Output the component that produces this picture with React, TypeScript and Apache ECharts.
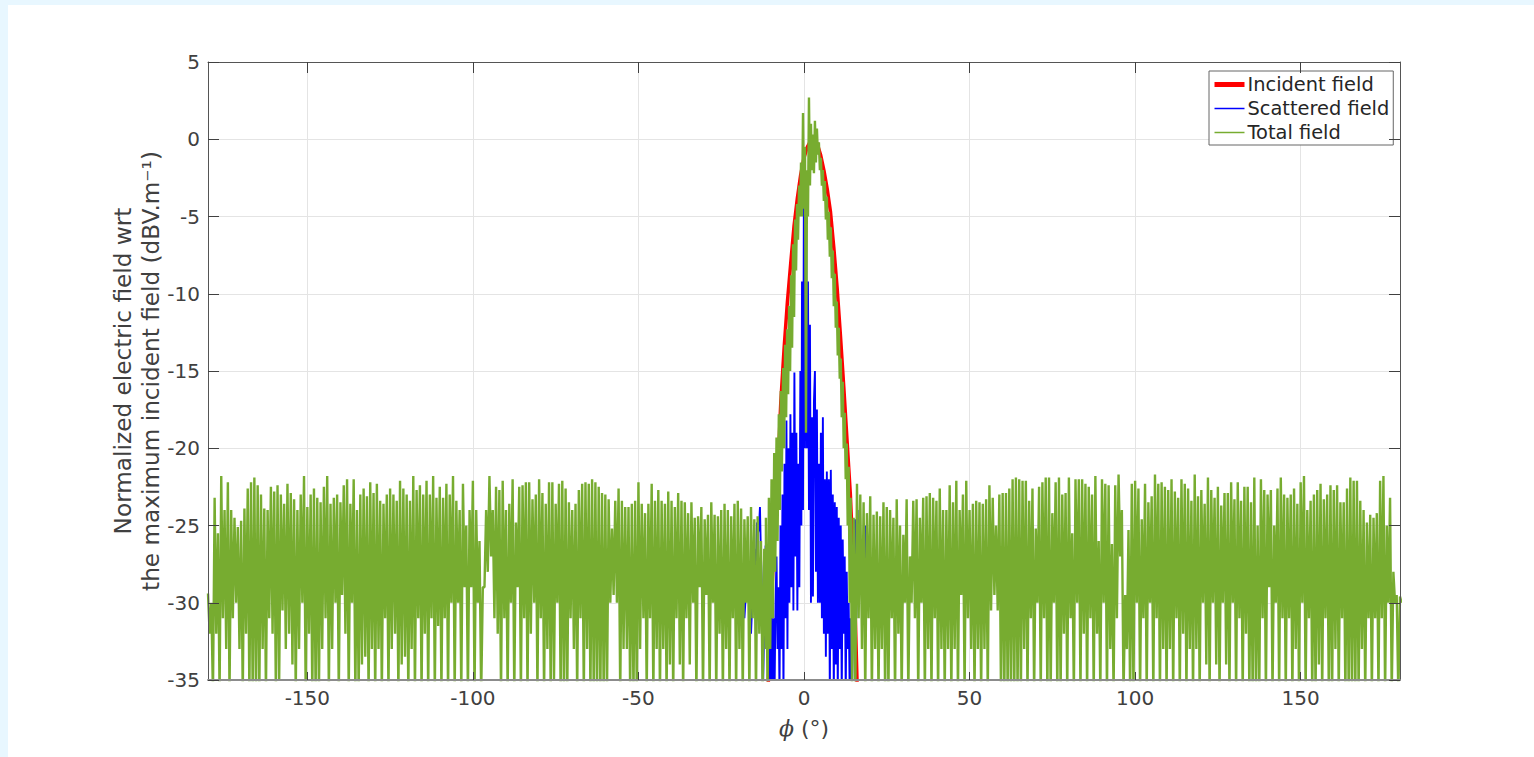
import React, { useEffect, useRef } from "react";
import * as echarts from "echarts";

const xTicks = [-150, -100, -50, 0, 50, 100, 150];

const incidentPhi = [-11, -10.5, -10, -9, -8, -7, -6, -5, -4, -3, -2, -1, 0, 1, 2, 3, 4, 5, 6, 7, 8, 9, 10, 11, 12, 13, 14, 15, 15.5, 16, 16.5];
const incidentVal = [-36.5, -33.5, -30.5, -26, -22, -17, -13.5, -10.5, -8, -5.6, -3.8, -2.3, -1.2, -0.5, -0.1, 0, -0.3, -1, -2, -3.2, -4.7, -7, -9.6, -12.7, -16, -19.5, -23, -28, -31, -35, -38];

const scatteredPhi = [-19, -18, -17, -16, -15, -14.6, -14.2, -13.9, -13.6, -13.3, -13, -12.8, -12.4, -12, -11.6, -11.3, -11, -10.6, -10.2, -9.8, -9.5, -9.2, -8.9, -8.6, -8.3, -8, -7.7, -7.4, -7.1, -6.8, -6.5, -6.2, -5.9, -5.6, -5.3, -5, -4.7, -4.4, -4.1, -3.8, -3.5, -3.2, -2.9, -2.6, -2.3, -2, -1.7, -1.4, -1.1, -0.8, -0.6, -0.3, 0, 0.3, 0.6, 0.9, 1.2, 1.5, 1.8, 2.1, 2.4, 2.7, 3, 3.3, 3.6, 3.9, 4.2, 4.5, 4.8, 5.1, 5.4, 5.7, 6, 6.3, 6.6, 6.9, 7.2, 7.5, 7.8, 8.1, 8.4, 8.7, 9, 9.3, 9.6, 9.9, 10.2, 10.5, 10.8, 11.1, 11.4, 11.7, 12, 12.3, 12.6, 12.9, 13.2, 13.5, 13.8, 14.1, 14.5, 15, 15.4, 15.8, 16.2, 16.6, 17, 17.4, 17.8, 18.2, 18.6, 19, 20];
const scatteredVal = [-28, -31, -27.5, -32, -26.5, -29, -24.8, -25.5, -25.2, -23.8, -27, -28.5, -36, -31, -26.3, -29, -33, -29, -36, -31, -36, -31, -36, -30, -27, -33, -29, -36, -25, -33, -23, -36, -21, -31, -18.2, -33, -20, -30, -17.8, -29, -19, -30.5, -15.1, -27, -19, -30.5, -21, -29, -15, -25, -9.2, -24, -0.6, -20, -3, -20, -9.2, -24, -12, -30, -18, -29.6, -17, -15, -28, -17.5, -30, -21, -30, -19, -31, -18, -32, -22, -33.5, -21.5, -32, -22, -36, -21.4, -33, -23, -36, -23.5, -34, -23.8, -36, -24.5, -33, -25, -36, -25.9, -32, -27, -36, -28, -33, -30, -36, -31, -36, -26, -24.6, -31, -24, -29, -26, -29, -27, -30, -25, -29, -27];

// Total field, -180 to -12 deg, one upper and one lower excursion per degree
const totalUpperLeft = [
  -29.4, -30, -23.2, -25.5, -21.8, -24, -22.2, -24, -24.5, -25.1,
  -24.7, -23.9, -22.6, -22.2, -21.9, -22.4, -23, -23.9, -24, -22.5,
  -22.8, -22.4, -23, -23.6, -22.3, -22.9, -23.3, -24, -23, -21.8,
  -23.8, -23, -22.6, -23.2, -23.5, -22.5, -21.8, -23.6, -23.2, -23,
  -23.5, -22.4, -22, -23.6, -22, -24, -23, -22.6, -23.1, -22.2,
  -22.9, -22.3, -23.4, -23.6, -23, -22.6, -23, -23.4, -22.1, -22.6,
  -23, -23.4, -21.8, -22.7, -22.4, -23, -22.1, -23, -21.8, -23.2,
  -22.5, -23.2, -22.3, -23, -21.8, -23.4, -24, -22.3, -25, -24,
  -22.1, -24, -26, -29, -24, -21.8, -24, -22.5, -22.7, -22.1,
  -24, -23.6, -22, -24.8, -22.5, -22.4, -22.2, -22.2, -23.3, -23,
  -22, -22.9, -23.6, -22.2, -22.2, -23.6, -22.3, -22.1, -22.6, -23.5,
  -24, -23.6, -22.7, -22.3, -22.2, -22.3, -22, -22.2, -22.5, -22.9,
  -23, -23.3, -25.2, -23.4, -22.6, -23.4, -23.8, -23.8, -23.6, -23.4,
  -22.2, -23.6, -24.2, -23.6, -22.3, -23.4, -22.7, -23.4, -23.6, -22.8,
  -23.4, -23.8, -22.9, -23.4, -23.5, -24.2, -23.5, -24.5, -24.4, -23.8,
  -24.6, -24.3, -23.5, -24.3, -24.4, -24, -23.6, -24, -24.4, -23.6,
  -23.4, -23.9, -24.6, -24.4, -23.8, -24.6, -24.4, -26, -26.5,
];
const totalLowerLeft = [
  -32, -36, -32, -36, -31, -33, -36, -31, -30, -33,
  -36, -32, -36, -36, -36, -36, -33, -36, -31, -32,
  -36, -35, -30.5, -33, -32, -34, -36, -33, -30, -36,
  -32, -36, -36, -36, -33, -31, -36, -33, -30, -36,
  -29.5, -32, -36, -30, -36, -36, -34, -33.5, -36, -33,
  -36, -33, -36, -31, -36, -33, -32, -36, -34, -33.5,
  -36, -33, -36, -31, -36, -32, -36, -31, -36, -31.5,
  -36, -31, -36, -30, -36, -30, -36, -29, -36, -29,
  -36, -30, -36, -29, -28, -27, -31, -32, -36, -31,
  -36, -30, -36, -29, -36, -31, -36, -32, -30, -36,
  -31, -36, -33, -36, -35, -30, -36, -36, -36, -31,
  -33, -36, -31, -36, -33, -36, -36, -36, -36, -36,
  -36, -30, -29.5, -30, -36, -33, -33, -36, -36, -36,
  -33, -31, -36, -31, -36, -33, -36, -33, -36, -34,
  -36, -31, -34, -36, -31, -34, -30, -36, -29, -36,
  -29.5, -36, -30, -36, -32, -36, -33, -36, -31, -36,
  -33, -36, -30, -36, -31, -36, -32, -36, -33,
];

// Total field around the main lobe
const totalCenterPhi = [-11.5, -11, -10.6, -10.2, -9.8, -9.4, -9, -8.7, -8.3, -8, -7.6, -7.3, -7, -6.7, -6.3, -6, -5.7, -5.4, -5.1, -4.8, -4.5, -4.2, -3.9, -3.6, -3.3, -3, -2.7, -2.4, -2.1, -1.8, -1.5, -1.2, -0.9, -0.6, -0.3, 0, 0.3, 0.6, 0.9, 1.2, 1.5, 1.8, 2.1, 2.4, 2.7, 3, 3.3, 3.6, 3.9, 4.2, 4.5, 4.8, 5.1, 5.4, 5.7, 6, 6.3, 6.6, 6.9, 7.2, 7.5, 7.8, 8.1, 8.4, 8.7, 9, 9.3, 9.6, 9.9, 10.2, 10.5, 10.8, 11.1, 11.4, 11.7, 12, 12.3, 12.6, 12.9, 13.2, 13.5, 13.8, 14.1, 14.5];
const totalCenterVal = [-24.5, -36, -23.2, -33, -22, -31, -20.3, -28, -19.3, -26, -17.8, -24, -16.3, -21.5, -14.8, -20, -13.3, -18, -12.3, -16.5, -10.8, -15, -8.8, -13.5, -6.8, -11.5, -5.2, -8.5, -4.2, -6.5, -3, -5, -1.5, -5, 1.7, -4.5, -0.5, -19, -2, -5, 2.7, -3, 1, -2, 0.3, -2.2, 1.2, -1.5, 0.7, -1, -0.2, -2, -1.2, -3, -2, -4, -2.7, -5.2, -3.7, -6.5, -4.7, -7.6, -5.7, -9, -7.2, -10.8, -8.7, -12.2, -10.5, -14, -12.2, -15.5, -14.2, -18, -15.7, -20, -17.7, -22, -19.7, -25, -21.2, -30, -23.2, -36];

// Total field, 15 to 180 deg
const totalUpperRight = [
  -24.5, -22.3, -23, -23.5, -24.2, -23.1, -24.3, -24.1, -24.4, -23.5,
  -23.8, -24, -24.5, -23.3, -25, -25.6, -23.3, -27, -23.4, -23.3,
  -24.5, -23.2, -23.1, -22.9, -23.2, -23.4, -22.6, -24, -24, -22.4,
  -23.5, -22.1, -24, -23, -22.1, -24, -23.6, -23.4, -23.5, -23.6,
  -23.3, -22.4, -23.2, -25, -23, -22.9, -22.9, -22.6, -22, -21.9,
  -22, -22.1, -22.1, -23.4, -22.6, -25.2, -22.5, -22.2, -21.9, -21.9,
  -24.2, -22.2, -21.9, -23, -22.9, -21.9, -25.5, -22, -22, -22,
  -22.3, -22.5, -23, -21.8, -26, -22, -22.3, -22.4, -26.2, -22.4,
  -21.7, -24, -29.5, -25.3, -22.3, -22.1, -22.6, -24.6, -22.3, -23.5,
  -23.1, -21.7, -22.3, -22.2, -22.5, -22.7, -22, -22.8, -23.2, -22,
  -22.3, -22.6, -23.4, -21.7, -23.1, -22.7, -23.6, -21.9, -22.7, -23.2,
  -22.5, -23.7, -22.9, -22.9, -22.2, -23.3, -22.2, -23.4, -22.5, -22.5,
  -23.5, -21.9, -25, -22, -22.7, -23, -22.7, -25, -22.6, -21.9,
  -23, -23.2, -23, -22.6, -23.6, -22.2, -21.8, -24, -23.4, -23,
  -22.7, -22.3, -23.3, -23, -22.4, -22.7, -22.4, -23.5, -23.5, -22.6,
  -21.9, -22.1, -22.1, -23.4, -24, -24.8, -24.3, -24.5, -24.2, -22.1,
  -21.8, -25, -23.2, -28, -29.5, -29.6,
];
const totalLowerRight = [
  -36, -31, -33, -36, -31, -36, -33, -36, -33, -36,
  -36, -31, -36, -32, -36, -30, -36, -30, -31, -36,
  -30, -36, -33, -36, -31, -36, -33, -36, -33, -36,
  -33, -36, -29.5, -36, -31, -33, -36, -33, -36, -33,
  -36, -30.5, -29.5, -30.5, -36, -36, -36, -36, -36, -36,
  -36, -33, -36, -31, -36, -30, -36, -31, -36, -36,
  -30, -36, -36, -32, -36, -31, -36, -30, -36, -32,
  -36, -31, -36, -32, -36, -30, -36, -33, -36, -31,
  -27, -36, -33, -36, -36, -30, -36, -31, -36, -30,
  -36, -31, -36, -33, -36, -33, -36, -31, -36, -32,
  -36, -33, -36, -33, -36, -30, -34, -36, -30, -34,
  -36, -30, -34, -36, -30, -36, -31, -36, -32, -36,
  -36, -36, -36, -31, -36, -29, -36, -30, -36, -31,
  -36, -31, -36, -33, -36, -30, -36, -31, -36, -36,
  -34, -36, -31, -36, -36, -33, -36, -31, -36, -36,
  -36, -36, -36, -33, -36, -31, -36, -31, -36, -31,
  -36, -30, -36, -30, -36, -30,
];

const zigzag = (startPhi: number, upper: number[], lower: number[]) => {
  const pts: number[][] = [];
  upper.forEach((u, i) => {
    pts.push([startPhi + i, u]);
    pts.push([startPhi + i + 0.5, lower[i]]);
  });
  return pts;
};
const zip = (a: number[], b: number[]) => a.map((v, i) => [v, b[i]]);

const FONT = "DejaVu Sans";
const INK = "#404040";
const GRID = "#e4e4e4";

export default function App() {
  const ref = useRef<HTMLDivElement>(null);
  useEffect(() => {
    const chart = echarts.init(ref.current!, null, { renderer: "svg" });
    const totalData = [
      ...zigzag(-180, totalUpperLeft, totalLowerLeft),
      ...zip(totalCenterPhi, totalCenterVal),
      ...zigzag(15, totalUpperRight, totalLowerRight),
    ];
    const xBase = { type: "value", min: -180, max: 180, gridIndex: 0 };
    const yBase = { type: "value", min: -35, max: 5, interval: 5, gridIndex: 0 };
    chart.setOption({
      animation: false,
      backgroundColor: "#ffffff",
      grid: { left: 200, top: 57, width: 1192, height: 618, containLabel: false },
      legend: {
        data: [
          { name: "Incident field", lineStyle: { width: 5 } },
          { name: "Scattered field", lineStyle: { width: 1.5 } },
          { name: "Total field", lineStyle: { width: 1.5 } },
        ],
        orient: "vertical",
        left: 1201,
        top: 66,
        padding: [4, 4, 3, 3],
        itemWidth: 30,
        itemHeight: 18,
        itemGap: 5,
        backgroundColor: "#ffffff",
        borderColor: "#666666",
        borderWidth: 1,
        itemStyle: { color: "transparent", borderWidth: 0, opacity: 0 },
        textStyle: { fontFamily: FONT, fontSize: 19.4, color: "#262626", padding: [0, 0, 0, -2] },
      },
      xAxis: [
        {
          ...xBase,
          position: "bottom",
          z: 5,
          name: "{p|ϕ} (°)",
          nameLocation: "middle",
          nameMoveOverlap: false,
          nameGap: 37,
          nameTextStyle: {
            fontFamily: FONT,
            fontSize: 22,
            color: INK,
            rich: {
              p: { fontFamily: "DejaVu Serif", fontStyle: "italic", fontSize: 22, color: INK },
            },
          },
          axisLine: { onZero: false, lineStyle: { color: "#8c8c8c", width: 2 } },
          axisTick: { inside: true, length: 8, customValues: xTicks, lineStyle: { color: INK } },
          axisLabel: { customValues: xTicks, fontFamily: FONT, fontSize: 20, color: INK, margin: 8 },
          splitLine: { show: false },
        },
        {
          ...xBase,
          position: "top",
          z: 5,
          axisLine: { onZero: false, lineStyle: { color: "#555555" } },
          axisTick: { inside: true, length: 11, customValues: xTicks, lineStyle: { color: INK } },
          axisLabel: { show: false },
          splitLine: { show: false },
        },
        {
          ...xBase,
          position: "bottom",
          z: 0,
          axisLine: { show: false },
          axisTick: { show: false, customValues: xTicks },
          axisLabel: { show: false, customValues: xTicks },
          splitLine: { show: true, lineStyle: { color: GRID, width: 1 } },
        },
      ],
      yAxis: [
        {
          ...yBase,
          position: "left",
          z: 5,
          name: "Normalized electric field wrt\nthe maximum incident field (dBV.m⁻¹)",
          nameLocation: "middle",
          nameMoveOverlap: false,
          nameRotate: 90,
          nameGap: 44,
          nameTextStyle: { fontFamily: FONT, fontSize: 23.2, color: INK, lineHeight: 28 },
          axisLine: { onZero: false, lineStyle: { color: "#555555" } },
          axisTick: { inside: true, length: 11, lineStyle: { color: INK } },
          axisLabel: { fontFamily: FONT, fontSize: 20, color: INK, margin: 8 },
          splitLine: { show: false },
        },
        {
          ...yBase,
          position: "right",
          z: 5,
          axisLine: { onZero: false, lineStyle: { color: "#555555" } },
          axisTick: { inside: true, length: 11, lineStyle: { color: INK } },
          axisLabel: { show: false },
          splitLine: { show: false },
        },
        {
          ...yBase,
          position: "left",
          z: 0,
          axisLine: { show: false },
          axisTick: { show: false },
          axisLabel: { show: false },
          splitLine: { show: true, lineStyle: { color: GRID, width: 1 } },
        },
      ],
      series: [
        {
          name: "Incident field",
          type: "line",
          data: zip(incidentPhi, incidentVal),
          symbol: "none",
          clip: true,
          color: "#ff0000",
          lineStyle: { color: "#ff0000", width: 3.5 },
        },
        {
          name: "Scattered field",
          type: "line",
          data: zip(scatteredPhi, scatteredVal),
          symbol: "none",
          clip: true,
          color: "#0000ff",
          lineStyle: { color: "#0000ff", width: 1.9 },
        },
        {
          name: "Total field",
          type: "line",
          data: totalData,
          symbol: "none",
          clip: true,
          color: "#77ac30",
          lineStyle: { color: "#77ac30", width: 2.4 },
        },
      ],
    });
    return () => chart.dispose();
  }, []);
  return (
    <div style={{ position: "fixed", left: 0, top: 0, right: 0, bottom: 0, background: "#e8f7ff", overflow: "hidden" }}>
      <div ref={ref} style={{ position: "absolute", left: 8, top: 5, width: 1526, height: 752 }} />
    </div>
  );
}
